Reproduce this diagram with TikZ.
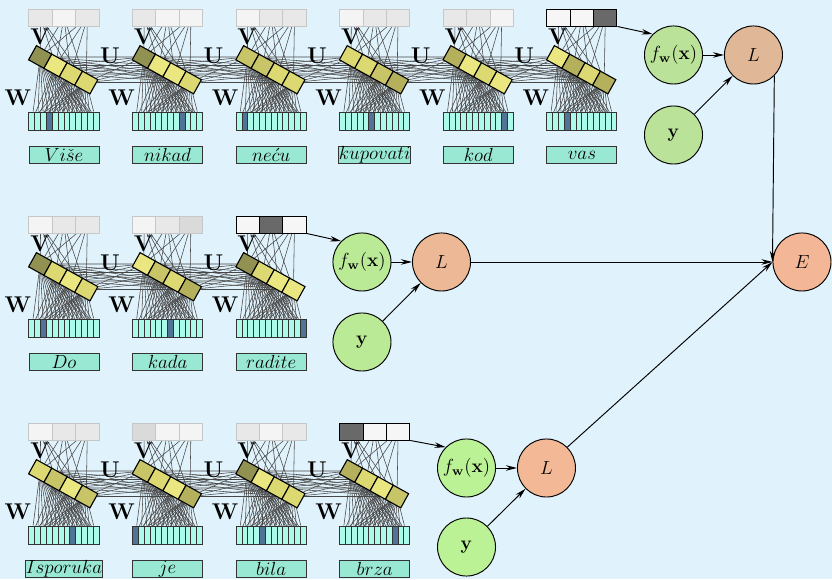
\documentclass[tikz,border=0pt]{standalone}
\usetikzlibrary{arrows.meta}

\pgfdeclarelayer{bg}
\pgfdeclarelayer{wires}
\pgfsetlayers{bg,wires,main}

\definecolor{sky}{RGB}{224,242,251}
\definecolor{hidA}{RGB}{145,145,82}
\definecolor{hidB}{RGB}{180,176,92}
\definecolor{hidC}{RGB}{200,196,104}
\definecolor{hidD}{RGB}{220,216,114}
\definecolor{hidE}{RGB}{234,231,128}
\definecolor{outA}{RGB}{244,244,244}
\definecolor{outB}{RGB}{232,232,232}
\definecolor{outC}{RGB}{218,218,218}
\definecolor{outW}{RGB}{246,246,246}
\definecolor{outK}{RGB}{105,105,105}
\definecolor{onehot}{RGB}{172,250,234}
\definecolor{hotcell}{RGB}{80,115,150}
\definecolor{wordbg}{RGB}{152,232,212}
\definecolor{predA}{RGB}{186,226,152}
\definecolor{predB}{RGB}{186,234,150}
\definecolor{predC}{RGB}{188,242,150}
\definecolor{lossA}{RGB}{224,184,152}
\definecolor{lossB}{RGB}{236,184,150}
\definecolor{lossC}{RGB}{243,184,150}
\definecolor{errc}{RGB}{243,182,150}

\begin{document}
\begin{tikzpicture}[
  hcell/.style={draw, line width=0.7pt, minimum width=0.39cm, minimum height=0.36cm, inner sep=0pt, transform shape},
  ofade/.style={draw=black!22, line width=0.6pt, minimum width=0.519cm, minimum height=0.378cm, inner sep=0pt},
  olast/.style={draw, semithick, minimum width=0.519cm, minimum height=0.378cm, inner sep=0pt},
  icell/.style={draw=black!80, semithick, minimum width=0.13cm, minimum height=0.4cm, inner sep=0pt},
  wordbox/.style={draw=black!80, semithick, fill=wordbg, minimum width=1.556cm, minimum height=0.356cm, inner sep=0pt, font=\large},
  mat/.style={font=\Large},
  wire/.style={black!72, line width=0.35pt},
  unit/.style={circle, draw, semithick, minimum size=1.29cm, inner sep=0pt, font=\large},
  arrow/.style={-{Stealth[length=7pt,width=3.5pt]}, semithick}
]
  \useasboundingbox (0,0) rectangle (18.489,-12.867);
  \begin{pgfonlayer}{bg}
    \fill[sky] (0,0) rectangle (18.489,-12.867);
  \end{pgfonlayer}

  % one column per word: row/col/word/hot/hidden x4/output x3/output style
  \foreach \r/\c/\word/\hot/\ha/\hb/\hc/\hd/\oa/\ob/\oc/\os in {
    1/1/Vi\check{s}e/4/hidA/hidE/hidD/hidD/outB/outA/outB/ofade,
    1/2/nikad/9/hidA/hidE/hidE/hidD/outB/outA/outA/ofade,
    1/3/ne\acute{c}u/2/hidC/hidC/hidD/hidD/outA/outB/outB/ofade,
    1/4/kupovati/6/hidD/hidD/hidC/hidB/outA/outB/outB/ofade,
    1/5/kod/11/hidB/hidE/hidD/hidE/outB/outB/outA/ofade,
    1/6/vas/4/hidE/hidB/hidD/hidB/outW/outW/outK/olast,
    2/1/Do/3/hidA/hidD/hidE/hidD/outA/outB/outB/ofade,
    2/2/kada/7/hidE/hidC/hidD/hidB/outA/outB/outC/ofade,
    2/3/radite/12/hidA/hidD/hidE/hidE/outW/outK/outW/olast,
    3/1/Isporuka/8/hidD/hidC/hidE/hidC/outA/outB/outB/ofade,
    3/2/je/1/hidC/hidD/hidE/hidB/outC/outA/outA/ofade,
    3/3/bila/5/hidA/hidE/hidD/hidD/outB/outA/outB/ofade,
    3/4/brza/10/hidB/hidD/hidE/hidC/outK/outW/outW/olast} {
    \pgfmathsetmacro\X{1.422+2.302*(\c-1)}
    \pgfmathsetmacro\Y{-0.2-4.6*(\r-1)}
    % output
    \foreach \k/\col in {1/\oa,2/\ob,3/\oc}
      \node[\os, fill=\col] (o-\r-\c-\k) at (\X-1.038+0.519*\k,\Y-0.189) {};
    % hidden
    \begin{scope}[shift={(\X-0.017,\Y-1.35)}, rotate=-29]
      \foreach \k/\col in {1/\ha,2/\hb,3/\hc,4/\hd}
        \node[hcell, fill=\col] (h-\r-\c-\k) at ({(\k-2.5)*0.39},0) {};
    \end{scope}
    % input
    \foreach \j in {1,...,12} {
      \ifnum\j=\hot \def\ic{hotcell}\else\def\ic{onehot}\fi
      \node[icell, fill=\ic] (i-\r-\c-\j) at (\X-0.843+0.1297*\j,\Y-2.489) {};
    }
    \node[wordbox] (w-\r-\c) at (\X,\Y-3.244) {$\word$};
    \node[mat] (v-\r-\c) at (\X-0.53,\Y-0.62) {$\mathbf{V}$};
    \node[mat] (m-\r-\c) at (\X-1.02,\Y-1.98) {$\mathbf{W}$};
    \begin{pgfonlayer}{wires}
      \foreach \k in {1,...,4} {
        \foreach \m in {1,2,3}
          \draw[wire] (h-\r-\c-\k) -- (o-\r-\c-\m);
        \foreach \j in {1,...,12}
          \draw[wire] (i-\r-\c-\j) -- (h-\r-\c-\k);
      }
    \end{pgfonlayer}
  }

  % recurrent links
  \foreach \r/\c/\d in {1/1/2,1/2/3,1/3/4,1/4/5,1/5/6,2/1/2,2/2/3,3/1/2,3/2/3,3/3/4} {
    \pgfmathsetmacro\X{1.422+2.302*(\c-1)}
    \pgfmathsetmacro\Y{-0.2-4.6*(\r-1)}
    \node[mat] (u-\r-\c) at (\X+1.02,\Y-1.04) {$\mathbf{U}$};
    \begin{pgfonlayer}{wires}
      \foreach \k in {1,...,4}
        \foreach \m in {1,...,4}
          \draw[wire] (h-\r-\c-\k) -- (h-\r-\d-\m);
    \end{pgfonlayer}
  }

  \node[unit, fill=predA] (f1) at (14.967,-1.222) {$f_{\mathbf{w}}(\mathbf{x})$};
  \node[unit, fill=predA] (y1) at (14.967,-3.0) {$\mathbf{y}$};
  \node[unit, fill=lossA] (L1) at (16.744,-1.222) {$L$};

  \node[unit, fill=predB] (f2) at (8.044,-5.822) {$f_{\mathbf{w}}(\mathbf{x})$};
  \node[unit, fill=predB] (y2) at (8.044,-7.6) {$\mathbf{y}$};
  \node[unit, fill=lossB] (L2) at (9.811,-5.822) {$L$};

  \node[unit, fill=predC] (f3) at (10.367,-10.4) {$f_{\mathbf{w}}(\mathbf{x})$};
  \node[unit, fill=predC] (y3) at (10.367,-12.156) {$\mathbf{y}$};
  \node[unit, fill=lossC] (L3) at (12.144,-10.4) {$L$};

  \node[unit, fill=errc] (E) at (17.822,-5.822) {$E$};

  \draw[arrow] (o-1-6-3.south east) -- (f1.north west);
  \draw[arrow] (f1) -- (L1);
  \draw[arrow] (y1) -- (L1);
  \draw[arrow] (o-2-3-3.south east) -- (f2.north west);
  \draw[arrow] (f2) -- (L2);
  \draw[arrow] (y2) -- (L2);
  \draw[arrow] (o-3-4-3.south east) -- (f3.north west);
  \draw[arrow] (f3) -- (L3);
  \draw[arrow] (y3) -- (L3);
  \draw[arrow] (L1.south east) -- (E.west);
  \draw[arrow] (L2) -- (E);
  \draw[arrow] (L3.north east) -- (E.west);
\end{tikzpicture}
\end{document}
